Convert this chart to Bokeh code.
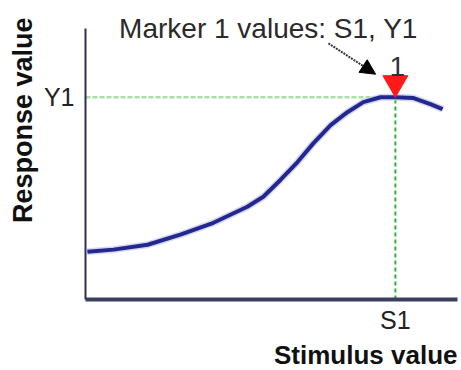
import math
from bokeh.plotting import figure
from bokeh.models import Range1d, FixedTicker, Arrow, NormalHead, Title
from bokeh.core.properties import value
from bokeh.embed import file_html
from bokeh.resources import INLINE

# ---- data ----
stimulus = [0.5, 7.5, 16.7, 25.5, 34.4, 43.5, 47.8, 52.4, 57.0, 61.3, 65.9, 70.4, 74.7, 79.3, 83.3, 88.2, 92.7, 96.0]
response = [17.6, 18.4, 20.2, 23.9, 28.3, 34.2, 37.9, 44.1, 50.7, 57.7, 64.3, 69.1, 72.8, 74.6, 74.6, 74.3, 72.1, 70.2]
marker_x = 83.3   # S1
marker_y = 74.6   # Y1
x_tick_labels = {83.3: "S1"}
y_tick_labels = {74.6: "Y1"}
title_text = "Marker 1 values: S1, Y1"
marker_name = "1"
x_title = "Stimulus value"
y_title = "Response value"

W, H = 461, 370
BL, BR, BT, BB = 85, 4, 0, 70
FRAME_W = W - BL - BR
FRAME_H = H - BT - BB
XMIN, XMAX = 0, 100
YMIN, YMAX = 0, 110.3
px_y = (YMAX - YMIN) / FRAME_H

p = figure(width=W, height=H, output_backend="svg", toolbar_location=None,
           x_range=Range1d(XMIN, XMAX), y_range=Range1d(YMIN, YMAX),
           min_border_left=BL, min_border_right=BR, min_border_top=BT, min_border_bottom=BB)
p.outline_line_color = None
p.grid.visible = False
p.background_fill_color = "white"
p.border_fill_color = "white"

FONT = "Liberation Sans"

# axes
for ax, ticks, labels, color, lw in ((p.xaxis[0], [marker_x], x_tick_labels, "#3b3e5c", 4),
                                     (p.yaxis[0], [marker_y], y_tick_labels, "#2a2f55", 2)):
    ax.ticker = FixedTicker(ticks=ticks)
    ax.major_label_overrides = labels
    ax.major_tick_line_color = None
    ax.minor_tick_line_color = None
    ax.axis_line_color = color
    ax.axis_line_width = lw
    ax.major_label_text_font = FONT
    ax.major_label_text_font_size = "25px"
    ax.major_label_text_color = "#222222"
p.yaxis[0].major_label_standoff = 5
p.xaxis[0].major_label_standoff = 0
p.yaxis[0].bounds = (0, 100)

# axis titles
p.add_layout(Title(text=x_title, align="right", offset=0, standoff=2, text_font=FONT,
                   text_font_size="26px", text_font_style="bold", text_color="#111111"), "below")
p.add_layout(Title(text=y_title, align="right", offset=17, standoff=6, text_font=FONT,
                   text_font_size="27px", text_font_style="bold", text_color="#111111"), "left")

# guide lines
p.line([XMIN, marker_x], [marker_y, marker_y], line_color="#a9dfa9", line_width=2.5, line_dash="5 2")
p.line([marker_x, marker_x], [YMIN, marker_y], line_color="#2fb33a", line_width=2, line_dash="4 3")

# curve (halo + core)
p.line(stimulus, response, line_color="#c5c8ea", line_width=7, line_alpha=0.7)
p.line(stimulus, response, line_color="#23288f", line_width=4)

# marker triangle, tip touching the curve peak
msize = 25
tip_off = (2.0 / 3.0) * (msize / 2.0) * math.sqrt(3) * px_y
p.scatter([marker_x], [marker_y + tip_off], marker="inverted_triangle", size=msize,
          fill_color="#ff1a1a", line_color="#ff1a1a")

# texts
p.text(x=[49.2], y=[100.0], text=[title_text], text_font=value(FONT), text_font_size="28px",
       text_color="#2a2a2a", text_align="center", text_baseline="middle")
p.text(x=[83.8], y=[86.0], text=[marker_name], text_font=value(FONT), text_font_size="28px",
       text_color="#333333", text_align="center", text_baseline="middle")

# arrow
p.add_layout(Arrow(x_start=65.3, y_start=94.5, x_end=78.0, y_end=83.1,
                   line_color="#333333", line_width=2, line_dash="2 1",
                   end=NormalHead(size=15, fill_color="black", line_color="black")))

open("out.html", "w").write(file_html(p, INLINE))
